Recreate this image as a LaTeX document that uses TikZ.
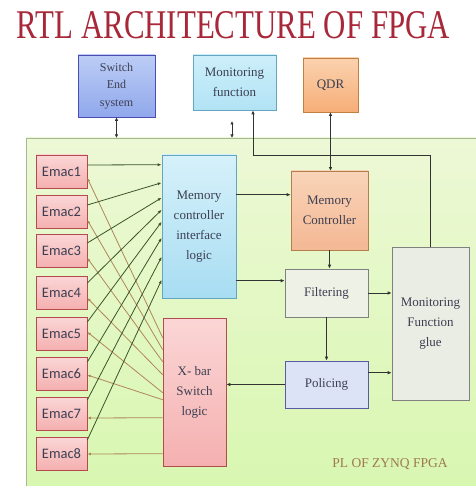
\documentclass[tikz,border=0pt]{standalone}
\usepackage{fontspec}
\usepackage{graphicx}
\setmainfont{Liberation Serif}
\newfontfamily\emacfont{Carlito}
\usetikzlibrary{arrows.meta,calc}

\definecolor{titlered}{HTML}{A8283A}
\definecolor{boxtext}{HTML}{3C3F52}
\definecolor{wireg}{HTML}{3A5428}
\definecolor{wireb}{HTML}{B0865A}
\definecolor{plfill}{HTML}{EDF8D6}
\definecolor{plfillb}{HTML}{D8F7B0}
\definecolor{plline}{HTML}{A8B890}
% block fills
\definecolor{swtop}{HTML}{BCCDF5}\definecolor{swbot}{HTML}{90A8EC}
\definecolor{montop}{HTML}{CDEFFA}\definecolor{monbot}{HTML}{B2E3F5}
\definecolor{qdrtop}{HTML}{FBD2AE}\definecolor{qdrbot}{HTML}{F6AE78}
\definecolor{mctop}{HTML}{D6F1FA}\definecolor{mcbot}{HTML}{A8DDF2}
\definecolor{memtop}{HTML}{F9D4B8}\definecolor{membot}{HTML}{F4B894}
\definecolor{pinktop}{HTML}{FBD6D6}\definecolor{pinkbot}{HTML}{F5B0B0}
\definecolor{filtfill}{HTML}{EEF1E6}
\definecolor{polfill}{HTML}{DCE3F6}
\definecolor{gluefill}{HTML}{E9EDE3}

\tikzset{
  blk/.style={draw=#1, line width=.6pt, inner sep=1pt, align=center,
    text=boxtext, font=\fontsize{13}{20}\selectfont},
  emacbox/.style={blk=red!40!gray, top color=pinktop, bottom color=pinkbot,
    minimum width=51pt, minimum height=33pt, font=\emacfont\fontsize{14.5}{16}\selectfont},
  sarrow/.style={draw=black!80, line width=.8pt, -{Latex[length=4pt,width=3.5pt]}},
  darrow/.style={draw=black!80, line width=.8pt, {Latex[length=3.5pt,width=3.5pt]}-{Latex[length=3.5pt,width=3.5pt]}},
  garrow/.style={draw=wireg, line width=.8pt, -{Latex[length=4pt,width=3pt]}},
  barrow/.style={draw=wireb, line width=.8pt, -{Latex[length=3.5pt,width=3pt]}},
}

\begin{document}
\begin{tikzpicture}[x=1pt,y=-1pt]
  \useasboundingbox (0,0) rectangle (475,486);
  \fill[white] (0,0) rectangle (475,486);

  % programmable logic area
  \draw[plline, line width=.7pt, top color=plfill, bottom color=plfillb] (26,138) rectangle (478,490);

  % title
  \node[text=titlered, inner sep=0pt] (title) at (233.5,25.5)
    {\resizebox{433pt}{27pt}{RTL ARCHITECTURE OF FPGA}};

  % blocks outside the PL
  \node[blk=blue!40!gray, top color=swtop, bottom color=swbot, minimum width=77pt, minimum height=62pt,
    font=\fontsize{12}{17.5}\selectfont] (sw) at (116.5,86) {Switch\\End\\system};
  \node[blk=cyan!50!gray, top color=montop, bottom color=monbot, minimum width=83pt, minimum height=55pt]
    (mon) at (234.5,82.5) {Monitoring\\function};
  \node[blk=orange!50!gray, top color=qdrtop, bottom color=qdrbot, minimum width=55pt, minimum height=54pt]
    (qdr) at (330.5,85) {QDR};

  % blocks inside the PL
  \node[blk=cyan!50!gray, top color=mctop, bottom color=mcbot, minimum width=74pt, minimum height=143pt]
    (mcil) at (199,226.5) {Memory\\controller\\interface\\logic};
  \node[blk=red!40!gray, top color=pinktop, bottom color=pinkbot, minimum width=63pt, minimum height=148pt]
    (xbar) at (194.5,392) {X- bar\\Switch\\logic};
  \node[blk=orange!40!gray, top color=memtop, bottom color=membot, minimum width=77pt, minimum height=79pt]
    (memc) at (329.5,210.5) {Memory\\Controller};
  \node[blk=gray, fill=filtfill, minimum width=83pt, minimum height=48pt]
    (filt) at (326.5,293) {Filtering};
  \node[blk=blue!30!gray, fill=polfill, minimum width=83pt, minimum height=47pt]
    (pol) at (326.5,384.5) {Policing};
  \node[blk=gray, fill=gluefill, minimum width=77pt, minimum height=153pt]
    (glue) at (430.5,323.5) {Monitoring\\Function\\glue};

  \foreach \i/\y in {1/171.5,2/212,3/251,4/292.5,5/333.5,6/373.5,7/413.5,8/453.5}
    \node[emacbox] (emac\i) at (61.5,\y) {Emac\i};

  \node[text=wireb!90!black, font=\fontsize{13.5}{15}\selectfont] (pllabel) at (390,464) {PL OF ZYNQ FPGA};

  % ports on the PL edge
  \coordinate (swport) at (116.5,138);
  \coordinate (monport) at (232,138);
  \coordinate (montap) at (232,121);
  \coordinate (monfb) at (253,155);

  \draw[darrow] (sw.south) -- (swport);
  \draw[darrow] (montap) -- (monport);
  \draw[sarrow] (glue.north) |- (monfb) -- (monfb |- mon.south);
  \draw[darrow] (qdr.south) -- (qdr.south |- memc.north);

  % data path
  \draw[sarrow] ($(mcil.north east)+(0,40)$) -- ($(memc.north west)+(0,24)$);
  \draw[sarrow] ($(mcil.north east)+(0,126)$) -- ($(filt.north west)+(0,12)$);
  \draw[sarrow] (memc.south) -- (memc.south |- filt.north);
  \draw[sarrow] (filt.south) -- (filt.south |- pol.north);
  \draw[sarrow] (filt.east) -- (filt.east -| glue.west);
  \draw[sarrow] ($(pol.north east)+(0,12)$) -- ($(pol.north east -| glue.west)+(0,12)$);
  \draw[sarrow] (pol.west) -- (pol.west -| xbar.east);

  % emac wiring: rx to the memory interface, tx from the crossbar
  \foreach \i/\gs/\gt/\bs/\bt in {1/-6.5/10/6.5/20, 2/-7/28/8/32, 3/-8/43/7/44, 4/-9.5/55/5.5/57,
      5/-11.5/67/-1.5/75, 6/-11.5/83/1.5/82, 7/-13.5/102/4.5/100, 8/-13.5/125/0.5/136} {
    \draw[garrow] ($(emac\i.east)+(0,\gs)$) -- ($(mcil.north west)+(0,\gt)$);
    \draw[barrow] ($(xbar.north west)+(0,\bt)$) -- ($(emac\i.east)+(0,\bs)$);
  }
\end{tikzpicture}
\end{document}
